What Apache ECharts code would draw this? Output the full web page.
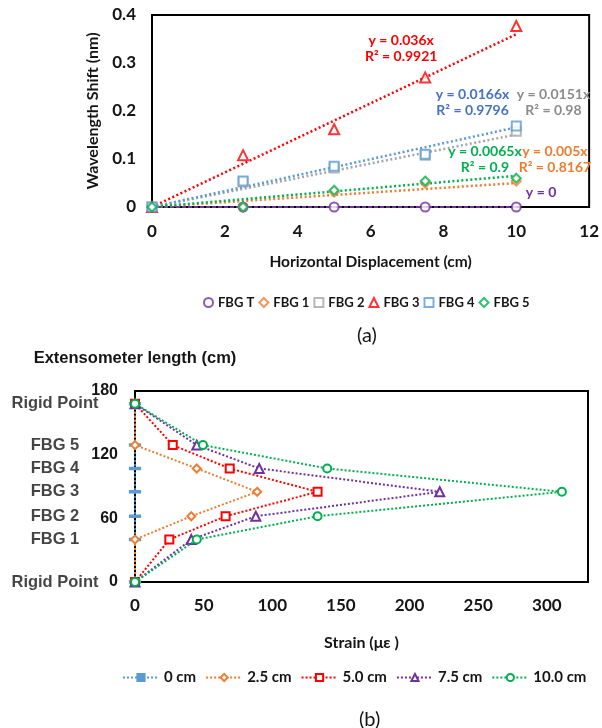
<!DOCTYPE html>
<html>
<head>
<meta charset="utf-8">
<script src="https://cdn.jsdelivr.net/npm/echarts@6/dist/echarts.min.js"></script>
<style>
html,body{margin:0;padding:0;background:#fff;}
#c{width:602px;height:728px;}
</style>
</head>
<body>
<div id="c"></div>
<script>
// ---------- Chart (a) data ----------
var dispX = [0, 2.5, 5, 7.5, 10];
var fbgT = [0, 0, 0, 0, 0];
var fbg1 = [0, 0, 0.031, 0.05, 0.054];
var fbg2 = [0, 0.052, 0.081, 0.108, 0.158];
var fbg3 = [0, 0.108, 0.162, 0.27, 0.377];
var fbg4 = [0, 0.054, 0.085, 0.11, 0.169];
var fbg5 = [0, 0, 0.035, 0.054, 0.06];
var trendX = [0, 10];
var trendT = [0, 0];
var trend1 = [0, 0.05];
var trend2 = [0, 0.151];
var trend3 = [0, 0.36];
var trend4 = [0, 0.166];
var trend5 = [0, 0.065];
var eqT = 'y = 0';
var eq1 = 'y = 0.005x\nR² = 0.8167';
var eq2 = 'y = 0.0151x\nR² = 0.98';
var eq3 = 'y = 0.036x\nR² = 0.9921';
var eq4 = 'y = 0.0166x\nR² = 0.9796';
var eq5 = 'y = 0.0065x\nR² = 0.9';
var namesA = ['FBG T', 'FBG 1', 'FBG 2', 'FBG 3', 'FBG 4', 'FBG 5'];

// ---------- Chart (b) data ----------
var levels = [0, 40, 62, 85, 107, 129, 168];
var levelNames = ['Rigid Point', 'FBG 1', 'FBG 2', 'FBG 3', 'FBG 4', 'FBG 5', 'Rigid Point'];
var strain0 = [0, 0, 0, 0, 0, 0, 0];
var strain25 = [0, 0, 41, 89, 45, 0, 0];
var strain50 = [0, 25, 66, 133, 69, 27.5, 0];
var strain75 = [0, 41, 88, 222, 90.5, 45, 0];
var strain100 = [0, 45, 133, 311, 140, 49.5, 0];
var namesB = ['0 cm', '2.5 cm', '5.0 cm', '7.5 cm', '10.0 cm'];

var FONT = 'Lato, "Open Sans", sans-serif';
var ARIAL = '"Liberation Sans", Arial, sans-serif';
var TXT = '#151515';

function pairs(xs, ys) { return xs.map(function (x, i) { return [x, ys[i]]; }); }
function pairsB(xs) { return xs.map(function (x, i) { return [x, levels[i]]; }); }

var colA = ['#7030A0', '#ED7D31', '#A5A5A5', '#FF0000', '#5B9BD5', '#00B050'];
var eqCol = ['#7030A0', '#ED7D31', '#8C8C8C', '#FF0000', '#4472C4', '#00B050'];
var symA = ['emptyCircle', 'emptyDiamond', 'emptyRect', 'emptyTriangle', 'emptyRect', 'emptyDiamond'];
var valsA = [fbgT, fbg1, fbg2, fbg3, fbg4, fbg5];
var trendsA = [trendT, trend1, trend2, trend3, trend4, trend5];
var eqs = [eqT, eq1, eq2, eq3, eq4, eq5];
var eqPos = [[10.68, 0.030], [11.06, 0.099], [11.02, 0.218], [6.84, 0.330], [8.8, 0.218], [9.14, 0.099]];

var series = [];
// trendlines
trendsA.forEach(function (t, i) {
  series.push({
    type: 'line', xAxisIndex: 0, yAxisIndex: 0, name: 'trend' + i,
    data: pairs(trendX, t), showSymbol: false, silent: true, z: 2,
    lineStyle: { color: colA[i], width: i === 0 ? 2 : 2.5, type: i === 0 ? [4, 2] : [2, 2.5] },
    markPoint: {
      symbol: 'circle', symbolSize: 0.01, silent: true,
      data: [{ coord: eqPos[i] }],
      label: {
        show: true, position: 'inside', formatter: eqs[i], color: eqCol[i],
        fontFamily: FONT, fontWeight: 'bold', fontSize: 14, lineHeight: 16, align: 'center'
      }
    }
  });
});
// markers
valsA.forEach(function (v, i) {
  series.push({
    type: 'scatter', xAxisIndex: 0, yAxisIndex: 0, name: namesA[i],
    data: pairs(dispX, v), symbol: symA[i], symbolSize: i === 3 ? 10 : 9, z: 3,
    itemStyle: { color: colA[i], borderColor: colA[i], borderWidth: 1.5 }
  });
});

// chart (b)
var colB = ['#5B9BD5', '#ED7D31', '#FF0000', '#7030A0', '#00B050'];
var symB = ['path://M0,0H10V3H0Z', 'emptyDiamond', 'emptyRect', 'emptyTriangle', 'emptyCircle'];
var valsB = [strain0, strain25, strain50, strain75, strain100];
valsB.forEach(function (v, i) {
  series.push({
    type: 'line', xAxisIndex: 1, yAxisIndex: 1, name: namesB[i],
    data: pairsB(v), symbol: symB[i], symbolSize: i === 0 ? [7, 2] : (i === 3 ? 9 : 8),
    showSymbol: true, z: 3 + i,
    lineStyle: { color: colB[i], width: i === 0 ? 1.5 : 2, type: [2, 2] },
    itemStyle: { color: colB[i], borderColor: colB[i], borderWidth: 1.5 }
  });
});
// level labels
series.push({
  type: 'scatter', xAxisIndex: 1, yAxisIndex: 1, name: 'levels', silent: true,
  data: pairsB(strain0), symbolSize: 0.01, clip: false,
  label: {
    show: true, position: 'left', distance: 80, align: 'center',
    formatter: function (p) { return levelNames[p.dataIndex]; },
    color: TXT, fontFamily: ARIAL, fontWeight: 'bold', fontSize: 16.5
  }
});

var option = {
  backgroundColor: '#fff',
  animation: false,
  title: [
    { text: '(a)', left: 352, top: 321, textStyle: { fontFamily: FONT, fontWeight: 'normal', fontSize: 20, color: TXT } },
    { text: '(b)', left: 354, top: 705, textStyle: { fontFamily: FONT, fontWeight: 'normal', fontSize: 20, color: TXT } }
  ],
  grid: [
    { left: 152, top: 15, width: 441, height: 192, show: true, borderColor: '#000', borderWidth: 2, backgroundColor: 'transparent' },
    { left: 135, top: 391, width: 453, height: 191, show: true, borderColor: '#000', borderWidth: 2, backgroundColor: 'transparent' }
  ],
  xAxis: [
    {
      gridIndex: 0, type: 'value', min: 0, max: 12, interval: 2,
      name: 'Horizontal Displacement (cm)', nameLocation: 'middle', nameGap: 47,
      nameTextStyle: { fontFamily: FONT, fontWeight: 'bold', fontSize: 15.5, color: TXT },
      axisLine: { show: true, lineStyle: { color: '#000', width: 2 } },
      axisTick: { show: false }, splitLine: { show: false },
      axisLabel: { margin: 16, fontFamily: FONT, fontWeight: 'bold', fontSize: 17, color: TXT }
    },
    {
      gridIndex: 1, type: 'value', min: 0, max: 330, interval: 50,
      name: 'Strain (με )', nameLocation: 'middle', nameGap: 53,
      nameTextStyle: { fontFamily: FONT, fontWeight: 'bold', fontSize: 16, color: TXT },
      axisLine: { show: true, lineStyle: { color: '#000', width: 2 } },
      axisTick: { show: false }, splitLine: { show: false },
      axisLabel: {
        margin: 15, fontFamily: FONT, fontWeight: 'bold', fontSize: 17, color: TXT, showMaxLabel: false,
        formatter: function (v) { return v % 50 === 0 ? String(v) : ''; }
      }
    }
  ],
  yAxis: [
    {
      gridIndex: 0, type: 'value', min: 0, max: 0.4, interval: 0.1,
      name: 'Wavelength Shift (nm)', nameLocation: 'middle', nameGap: 50,
      nameTextStyle: { fontFamily: FONT, fontWeight: 'bold', fontSize: 16, color: TXT },
      axisLine: { show: true, lineStyle: { color: '#000', width: 2 } },
      axisTick: { show: false }, splitLine: { show: false },
      axisLabel: { margin: 16, fontFamily: FONT, fontWeight: 'bold', fontSize: 17, color: TXT }
    },
    {
      gridIndex: 1, type: 'value', min: 0, max: 180, interval: 60,
      name: 'Extensometer length (cm)', nameLocation: 'end', nameGap: 24,
      nameTextStyle: { fontFamily: ARIAL, fontWeight: 'bold', fontSize: 16.5, color: TXT },
      axisLine: { show: true, lineStyle: { color: '#000', width: 2 } },
      axisTick: { show: false }, splitLine: { show: false },
      axisLabel: { margin: 17, fontFamily: ARIAL, fontWeight: 'bold', fontSize: 16, color: TXT }
    }
  ],
  legend: [
    {
      data: namesA, left: 198, top: 291, itemWidth: 9, itemHeight: 9, itemGap: 4,
      textStyle: { fontFamily: FONT, fontWeight: 'bold', fontSize: 13, color: TXT }
    },
    {
      data: namesB, left: 117, top: 665, itemWidth: 36, itemHeight: 9, itemGap: 9,
      textStyle: { fontFamily: FONT, fontWeight: 'bold', fontSize: 15, color: TXT }
    }
  ],
  series: series
};

var chart = echarts.init(document.getElementById('c'), null, { renderer: 'canvas' });
chart.setOption(option);
</script>
</body>
</html>
